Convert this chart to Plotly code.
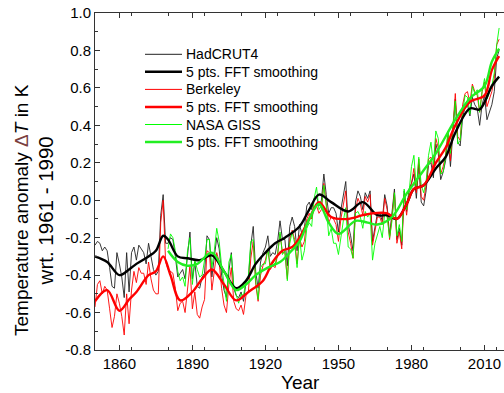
import plotly.graph_objects as go

# ---------------- data ----------------
years_had = list(range(1850, 2017))
hadcrut4 = [
    -0.24, -0.22, -0.23, -0.27, -0.25, -0.27, -0.36, -0.46, -0.47, -0.28,  # 1850s
    -0.34, -0.41, -0.52, -0.28, -0.49, -0.28, -0.25, -0.32, -0.24, -0.26,  # 1860s
    -0.28, -0.34, -0.23, -0.30, -0.37, -0.40, -0.38, -0.08, 0.03, -0.23,   # 1870s
    -0.23, -0.20, -0.21, -0.30, -0.41, -0.39, -0.37, -0.42, -0.31, -0.17,  # 1880s
    -0.42, -0.33, -0.46, -0.47, -0.41, -0.39, -0.19, -0.21, -0.41, -0.29,  # 1890s
    -0.20, -0.26, -0.40, -0.48, -0.52, -0.38, -0.28, -0.47, -0.51, -0.52,  # 1900s
    -0.49, -0.54, -0.44, -0.42, -0.24, -0.14, -0.38, -0.47, -0.33, -0.28,  # 1910s
    -0.25, -0.19, -0.30, -0.28, -0.29, -0.22, -0.11, -0.21, -0.21, -0.35,  # 1920s
    -0.14, -0.09, -0.14, -0.27, -0.13, -0.18, -0.15, -0.03, -0.01, -0.05,  # 1930s
    0.01, 0.02, -0.03, 0.00, 0.14, 0.03, -0.07, -0.04, -0.04, -0.07,       # 1940s
    -0.17, -0.05, 0.03, 0.10, -0.13, -0.19, -0.27, -0.01, 0.05, 0.02,      # 1950s
    -0.05, 0.04, 0.01, 0.05, -0.22, -0.14, -0.07, -0.07, -0.11, 0.03,      # 1960s
    -0.03, -0.19, -0.07, 0.06, -0.21, -0.15, -0.24, 0.05, -0.06, 0.06,     # 1970s
    0.09, 0.14, 0.01, 0.19, -0.01, -0.03, 0.05, 0.19, 0.20, 0.12,          # 1980s
    0.30, 0.25, 0.11, 0.15, 0.21, 0.33, 0.18, 0.39, 0.54, 0.31,            # 1990s
    0.29, 0.44, 0.50, 0.51, 0.45, 0.55, 0.51, 0.49, 0.40, 0.51,            # 2000s
    0.56, 0.43, 0.47, 0.51, 0.58, 0.76, 0.80,                              # 2010s
]

years_berk = list(range(1850, 2017))
berkeley = [
    -0.57, -0.45, -0.43, -0.50, -0.46, -0.48, -0.58, -0.68, -0.62, -0.50,  # 1850s
    -0.55, -0.62, -0.72, -0.50, -0.66, -0.48, -0.38, -0.44, -0.36, -0.39,  # 1860s
    -0.39, -0.45, -0.33, -0.42, -0.48, -0.50, -0.50, -0.12, 0.00, -0.33,   # 1870s
    -0.37, -0.38, -0.39, -0.47, -0.59, -0.55, -0.54, -0.60, -0.48, -0.35,  # 1880s
    -0.58, -0.49, -0.61, -0.63, -0.57, -0.53, -0.27, -0.28, -0.48, -0.37,  # 1890s
    -0.28, -0.33, -0.47, -0.56, -0.60, -0.45, -0.36, -0.54, -0.58, -0.59,  # 1900s
    -0.56, -0.61, -0.51, -0.49, -0.31, -0.22, -0.45, -0.54, -0.40, -0.35,  # 1910s
    -0.32, -0.26, -0.37, -0.35, -0.36, -0.29, -0.18, -0.28, -0.28, -0.42,  # 1920s
    -0.21, -0.16, -0.21, -0.34, -0.20, -0.25, -0.22, -0.10, -0.07, -0.10,  # 1930s
    -0.04, -0.03, -0.07, -0.05, 0.09, -0.02, -0.12, -0.09, -0.10, -0.13,   # 1940s
    -0.22, -0.10, -0.02, 0.05, -0.17, -0.23, -0.31, -0.05, 0.01, -0.02,    # 1950s
    -0.08, 0.02, -0.01, 0.03, -0.24, -0.16, -0.09, -0.09, -0.13, 0.01,     # 1960s
    -0.05, -0.21, -0.09, 0.04, -0.23, -0.17, -0.26, 0.03, -0.08, 0.04,     # 1970s
    0.09, 0.17, 0.04, 0.22, 0.02, 0.00, 0.08, 0.22, 0.23, 0.15,            # 1980s
    0.33, 0.28, 0.14, 0.18, 0.24, 0.36, 0.21, 0.42, 0.57, 0.34,            # 1990s
    0.32, 0.51, 0.57, 0.58, 0.52, 0.62, 0.58, 0.56, 0.47, 0.58,            # 2000s
    0.63, 0.50, 0.54, 0.58, 0.65, 0.83, 0.86,                              # 2010s
]

years_giss = list(range(1880, 2017))
giss = [
    -0.26, -0.18, -0.20, -0.27, -0.38, -0.43, -0.41, -0.46, -0.27, -0.20,  # 1880s
    -0.45, -0.32, -0.37, -0.41, -0.40, -0.32, -0.21, -0.21, -0.36, -0.27,  # 1890s
    -0.15, -0.22, -0.35, -0.44, -0.54, -0.33, -0.29, -0.46, -0.50, -0.55,  # 1900s
    -0.50, -0.51, -0.43, -0.41, -0.22, -0.21, -0.43, -0.53, -0.36, -0.34,  # 1910s
    -0.34, -0.26, -0.35, -0.33, -0.34, -0.29, -0.17, -0.29, -0.27, -0.43,  # 1920s
    -0.23, -0.17, -0.23, -0.36, -0.19, -0.32, -0.27, -0.15, -0.12, -0.14,  # 1930s
    0.01, 0.07, -0.05, -0.03, 0.08, -0.03, -0.19, -0.15, -0.23, -0.23,     # 1940s
    -0.29, -0.19, -0.11, -0.04, -0.25, -0.26, -0.31, -0.07, -0.06, -0.09,  # 1950s
    -0.15, -0.06, -0.09, -0.07, -0.32, -0.23, -0.18, -0.14, -0.20, -0.07,  # 1960s
    -0.09, -0.20, -0.11, 0.04, -0.19, -0.13, -0.22, 0.06, -0.05, 0.04,     # 1970s
    0.18, 0.24, 0.06, 0.23, 0.08, 0.04, 0.10, 0.24, 0.31, 0.19,            # 1980s
    0.37, 0.33, 0.14, 0.15, 0.23, 0.37, 0.25, 0.38, 0.53, 0.30,            # 1990s
    0.32, 0.47, 0.56, 0.55, 0.46, 0.61, 0.57, 0.59, 0.47, 0.58,            # 2000s
    0.65, 0.54, 0.57, 0.61, 0.68, 0.83, 0.92,                              # 2010s
]

# 5 pts. FFT smoothing curves
sm_had_years = [1850, 1855, 1860, 1864, 1867, 1872, 1875, 1878, 1880, 1884, 1888,
                1893, 1898, 1903, 1908, 1912, 1916, 1920, 1924, 1928, 1934, 1938,
                1942, 1947, 1954, 1960, 1966, 1970, 1974, 1978, 1981, 1985, 1990,
                1994, 1998, 2004, 2008, 2013, 2016]
sm_had = [-0.30, -0.33, -0.40, -0.37, -0.34, -0.30, -0.27, -0.19, -0.21, -0.30, -0.31,
          -0.32, -0.295, -0.38, -0.47, -0.43, -0.34, -0.28, -0.23, -0.20, -0.14, -0.05,
          0.03, -0.01, -0.06, -0.01, -0.08, -0.08, -0.10, -0.02, 0.06, 0.08, 0.17,
          0.23, 0.36, 0.49, 0.485, 0.61, 0.66]

sm_berk_years = [1850, 1855, 1860, 1864, 1867, 1872, 1875, 1878, 1881, 1885, 1890,
                 1894, 1898, 1903, 1908, 1913, 1919, 1923, 1927, 1931, 1934, 1938,
                 1942, 1947, 1954, 1960, 1964, 1970, 1974, 1978, 1981, 1985, 1990,
                 1994, 1998, 2004, 2010, 2013, 2016]
sm_berk = [-0.54, -0.48, -0.59, -0.53, -0.49, -0.40, -0.38, -0.30, -0.40, -0.535, -0.49,
           -0.42, -0.37, -0.45, -0.535, -0.49, -0.43, -0.33, -0.27, -0.25, -0.20, -0.10,
           -0.01, -0.09, -0.10, -0.08, -0.07, -0.07, -0.10, -0.02, 0.06, 0.08, 0.20,
           0.28, 0.40, 0.525, 0.56, 0.695, 0.77]

sm_giss_years = [1880, 1884, 1888, 1892, 1898, 1903, 1908, 1912, 1916, 1921, 1926,
                 1930, 1934, 1938, 1942, 1946, 1950, 1957, 1962, 1966, 1972, 1978,
                 1985, 1990, 1998, 2004, 2010, 2013, 2016]
sm_giss = [-0.27, -0.33, -0.35, -0.34, -0.28, -0.38, -0.48, -0.45, -0.40, -0.36, -0.33,
           -0.28, -0.22, -0.10, -0.02, -0.12, -0.18, -0.11, -0.12, -0.13, -0.09, 0.035,
           0.16, 0.25, 0.43, 0.545, 0.61, 0.74, 0.81]

legend_names = ["HadCRUT4", "5 pts. FFT smoothing", "Berkeley",
                "5 pts. FFT smoothing", "NASA GISS", "5 pts. FFT smoothing"]

x_ticks = [1860, 1890, 1920, 1950, 1980, 2010]
y_ticks = [-0.8, -0.6, -0.4, -0.2, 0.0, 0.2, 0.4, 0.6, 0.8, 1.0]
y_tick_text = ["-0.8", "-0.6", "-0.4", "-0.2", "0.0", "0.2", "0.4", "0.6", "0.8", "1.0"]

# ---------------- figure ----------------
W, H = 504, 393
ML, MR, MT, MB = 95, 0, 13, 43
PW, PH = W - ML - MR, H - MT - MB

BLACK = "#000000"
RED = "#ff0000"
GREEN = "#00ff00"
GREEN_S = "#22ee22"
FONT = "Arial, Liberation Sans, sans-serif"

thin_cols = ["#222222", RED, GREEN]
thick_cols = [BLACK, RED, GREEN_S]

fig = go.Figure()
fig.add_trace(go.Scatter(x=years_had, y=hadcrut4, mode="lines", name=legend_names[0],
                         line=dict(color=thin_cols[0], width=0.9)))
fig.add_trace(go.Scatter(x=years_berk, y=berkeley, mode="lines", name=legend_names[2],
                         line=dict(color=thin_cols[1], width=0.9)))
fig.add_trace(go.Scatter(x=years_giss, y=giss, mode="lines", name=legend_names[4],
                         line=dict(color=thin_cols[2], width=0.9)))
fig.add_trace(go.Scatter(x=sm_had_years, y=sm_had, mode="lines", name=legend_names[1],
                         line=dict(color=thick_cols[0], width=2.4, shape="spline", smoothing=1.0)))
fig.add_trace(go.Scatter(x=sm_berk_years, y=sm_berk, mode="lines", name=legend_names[3],
                         line=dict(color=thick_cols[1], width=2.4, shape="spline", smoothing=1.0)))
fig.add_trace(go.Scatter(x=sm_giss_years, y=sm_giss, mode="lines", name=legend_names[5],
                         line=dict(color=thick_cols[2], width=2.4, shape="spline", smoothing=1.0)))

fig.update_layout(
    width=W, height=H,
    margin=dict(l=ML, r=MR, t=MT, b=MB),
    paper_bgcolor="white", plot_bgcolor="white",
    font=dict(family=FONT, size=14, color="#000000"),
    showlegend=False,
)
fig.update_xaxes(
    range=[1850, 2018], tickmode="array", tickvals=x_ticks,
    ticks="inside", ticklen=5, tickwidth=1, tickcolor="#333333",
    showline=True, linecolor="#333333", linewidth=1, mirror="ticks",
    showgrid=False, zeroline=False,
    tickfont=dict(size=15, family=FONT),
    minor=dict(dtick=15, tick0=1850, ticks="inside", ticklen=3, tickcolor="#333333"),
)
fig.update_yaxes(
    range=[-0.8, 1.0], tickmode="array", tickvals=y_ticks, ticktext=y_tick_text,
    ticks="inside", ticklen=5, tickwidth=1, tickcolor="#333333",
    showline=True, linecolor="#333333", linewidth=1, mirror=False,
    showgrid=False, zeroline=False,
    tickfont=dict(size=15, family=FONT),
    minor=dict(dtick=0.1, tick0=-0.8, ticks="inside", ticklen=3, tickcolor="#333333"),
)

# ---- legend drawn by hand (compact spacing like the reference) ----
def px2paper_x(px):
    return (px - ML) / PW

def px2paper_y(py):
    return (H - MB - py) / PH

leg_cols = [thin_cols[0], thick_cols[0], thin_cols[1], thick_cols[1], thin_cols[2], thick_cols[2]]
leg_widths = [1, 2.5, 1, 2.5, 1, 2.5]
leg_y0, leg_dy = 54.3, 17.55
for i, name in enumerate(legend_names):
    py = leg_y0 + i * leg_dy
    fig.add_shape(type="line", xref="paper", yref="paper",
                  x0=px2paper_x(145), x1=px2paper_x(182),
                  y0=px2paper_y(py), y1=px2paper_y(py),
                  line=dict(color=leg_cols[i], width=leg_widths[i]))
    fig.add_annotation(xref="paper", yref="paper", x=px2paper_x(184), y=px2paper_y(py),
                       xanchor="left", yanchor="middle", showarrow=False, text=name,
                       font=dict(size=14, family=FONT, color="#000000"))

fig.add_annotation(
    xref="paper", yref="paper", x=px2paper_x(34), y=px2paper_y(210),
    xanchor="center", yanchor="middle",
    textangle=-90, showarrow=False, align="center",
    text="Temperature anomaly <span style='color:#7a4040'>Δ</span><i>T</i> in K<br>"
         "<span style='font-size:20.5px'>wrt. 1961 - 1990</span>",
    font=dict(size=19, family=FONT, color="#000000"),
)
fig.add_annotation(
    xref="paper", yref="paper", x=px2paper_x(300), y=px2paper_y(382),
    xanchor="center", yanchor="middle",
    showarrow=False, text="Year",
    font=dict(size=19, family=FONT, color="#000000"),
)

fig.write_html("out.html",
               config={"displayModeBar": False},
               post_script="document.body.style.margin='0';document.body.style.padding='0';")
